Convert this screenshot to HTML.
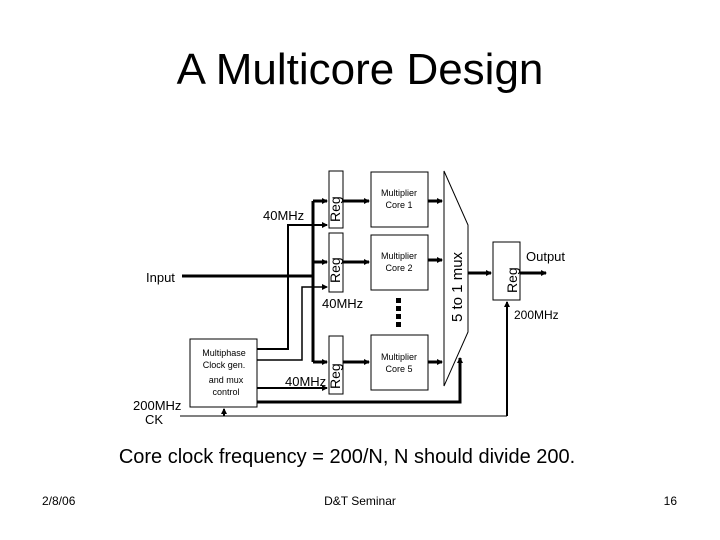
<!DOCTYPE html>
<html><head><style>body{margin:0;background:#fff}svg{display:block}</style></head><body>
<svg width="720" height="540" viewBox="0 0 720 540" xmlns="http://www.w3.org/2000/svg" font-family="Liberation Sans, Arial, sans-serif">
<defs><marker id="a" markerWidth="6" markerHeight="6" refX="5" refY="3" orient="auto" markerUnits="userSpaceOnUse"><path d="M0,0L6,3L0,6z" fill="#000"/></marker></defs>
<text x="360" y="84" font-size="44" text-anchor="middle">A Multicore Design</text>
<g fill="none" stroke="#000" stroke-width="1">
<rect x="329" y="171" width="14" height="57"/><rect x="329" y="233" width="14" height="59"/><rect x="329" y="336" width="14" height="58"/>
<rect x="371" y="172" width="57" height="55"/><rect x="371" y="235" width="57" height="55"/><rect x="371" y="335" width="57" height="55"/>
<polygon points="444,171 468,225 468,332 444,386"/>
<rect x="493" y="242" width="27" height="58"/>
<rect x="190" y="339" width="67" height="68"/>
<line x1="180" y1="416" x2="507" y2="416"/>
<polyline points="257,349 288,349 288,225 327,225" stroke-width="2" marker-end="url(#a)"/>
<polyline points="257,360 302,360 302,287 327,287" stroke-width="1.5" marker-end="url(#a)"/>
<line x1="257" y1="388" x2="327" y2="388" stroke-width="2" marker-end="url(#a)"/>
</g>
<g fill="none" stroke="#000" stroke-width="3">
<line x1="182" y1="276" x2="313" y2="276"/>
<line x1="313" y1="201" x2="313" y2="362"/>
<line x1="313" y1="201" x2="327" y2="201" marker-end="url(#a)"/>
<line x1="313" y1="262" x2="327" y2="262" marker-end="url(#a)"/>
<line x1="313" y1="362" x2="327" y2="362" marker-end="url(#a)"/>
<line x1="343" y1="201" x2="369" y2="201" marker-end="url(#a)"/>
<line x1="343" y1="262" x2="369" y2="262" marker-end="url(#a)"/>
<line x1="343" y1="362" x2="369" y2="362" marker-end="url(#a)"/>
<line x1="428" y1="201" x2="442" y2="201" marker-end="url(#a)"/>
<line x1="428" y1="260" x2="442" y2="260" marker-end="url(#a)"/>
<line x1="428" y1="362" x2="442" y2="362" marker-end="url(#a)"/>
<line x1="468" y1="273" x2="491" y2="273" marker-end="url(#a)"/>
<line x1="520" y1="273" x2="546" y2="273" marker-end="url(#a)"/>
<polyline points="257,402 460,402 460,358" marker-end="url(#a)"/>
</g>
<g fill="none" stroke="#000" stroke-width="2">
<polyline points="507,416 507,302" marker-end="url(#a)"/>
<line x1="224" y1="416" x2="224" y2="409" marker-end="url(#a)"/>
</g>
<g fill="#000"><rect x="396" y="298" width="5" height="5"/><rect x="396" y="306" width="5" height="5"/><rect x="396" y="314" width="5" height="5"/><rect x="396" y="322" width="5" height="5"/></g>
<g font-size="14">
<text x="340" y="222" transform="rotate(-90 340 222)">Reg</text>
<text x="340" y="283" transform="rotate(-90 340 283)">Reg</text>
<text x="340" y="389" transform="rotate(-90 340 389)">Reg</text>
<text x="517" y="293" transform="rotate(-90 517 293)">Reg</text>
<text x="462" y="322" font-size="15" transform="rotate(-90 462 322)">5 to 1 mux</text>
<text x="263" y="220" font-size="13">40MHz</text>
<text x="322" y="308" font-size="13">40MHz</text>
<text x="285" y="386" font-size="13">40MHz</text>
<text x="146" y="282" font-size="13">Input</text>
<text x="133" y="410" font-size="13">200MHz</text>
<text x="145" y="424" font-size="13">CK</text>
<text x="526" y="261" font-size="13">Output</text>
<text x="514" y="319" font-size="12">200MHz</text>
</g>
<g font-size="9" text-anchor="middle">
<text x="399" y="196">Multiplier</text><text x="399" y="208">Core 1</text>
<text x="399" y="259">Multiplier</text><text x="399" y="271">Core 2</text>
<text x="399" y="360">Multiplier</text><text x="399" y="372">Core 5</text>
<text x="224" y="356">Multiphase</text><text x="224" y="368">Clock gen.</text>
<text x="226" y="383">and mux</text><text x="226" y="395">control</text>
</g>
<text x="347" y="463" font-size="20" text-anchor="middle">Core clock frequency = 200/N, N should divide 200.</text>
<text x="42" y="505" font-size="12">2/8/06</text>
<text x="360" y="505" font-size="12" text-anchor="middle">D&amp;T Seminar</text>
<text x="677" y="505" font-size="12" text-anchor="end">16</text>
</svg>
</body></html>
